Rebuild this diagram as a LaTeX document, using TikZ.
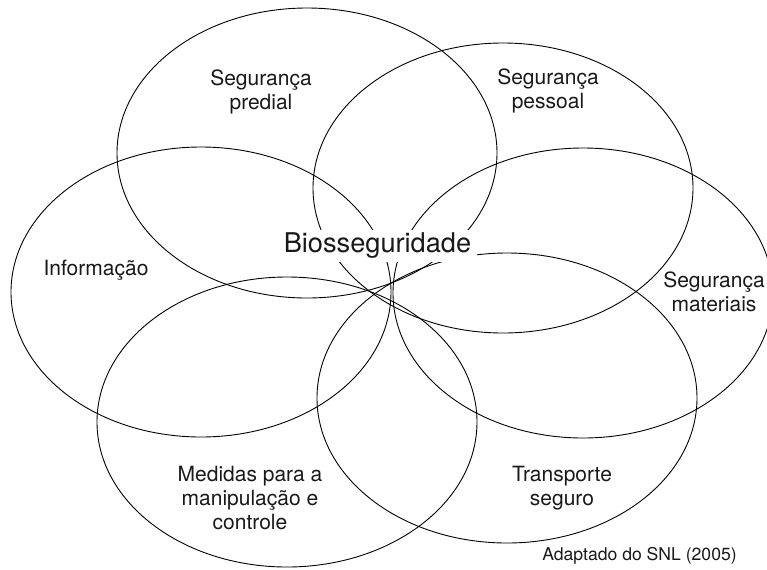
\documentclass[tikz,border=0pt]{standalone}
\usepackage{fontspec}
\setmainfont{TeX Gyre Heros}
\usetikzlibrary{shapes}

\begin{document}
\begin{tikzpicture}[x=0.5pt,y=-0.5pt]
		\tikzstyle{petal}=[draw=black,line width=0.45pt,ellipse,minimum width=190pt,minimum height=145pt,inner sep=0pt]
		\tikzstyle{topic}=[align=center,inner sep=0pt,text=black!90,font=\fontsize{10.5}{12}\selectfont]
		\tikzstyle{core}=[fill=white,text=black!90,inner xsep=3pt,inner ysep=1.5pt,font=\fontsize{13.6}{16}\selectfont]
		\tikzstyle{credit}=[inner sep=0pt,text=black!90,font=\fontsize{8.8}{10}\selectfont]
		
		\useasboundingbox (0,0) rectangle (767,569);
		
		\node[petal] (predial) at (307,153) {};
		\node[petal] (pessoal) at (503,188) {};
		\node[petal] (informacao) at (201,292) {};
		\node[petal] (materiais) at (583,293) {};
		\node[petal] (medidas) at (287,422) {};
		\node[petal] (transporte) at (507,398) {};
		
		\node[topic] (tpredial) at (261,92) {Segurança\\predial};
		\node[topic] (tpessoal) at (548,91) {Segurança\\pessoal};
		\node[topic] (tinformacao) at (96,270) {Informação};
		\node[topic] (tmateriais) at (714,291.5) {Segurança\\materiais};
		\node[topic] (tmedidas) at (250,497.5) {Medidas para a\\manipulação e\\controle};
		\node[topic] (ttransporte) at (562,488.5) {Transporte\\seguro};
		
		\node[core] (bio) at (377.5,246) {Biosseguridade};
		\node[credit] (fonte) at (639.5,556) {Adaptado do SNL (2005)};
\end{tikzpicture}
\end{document}
